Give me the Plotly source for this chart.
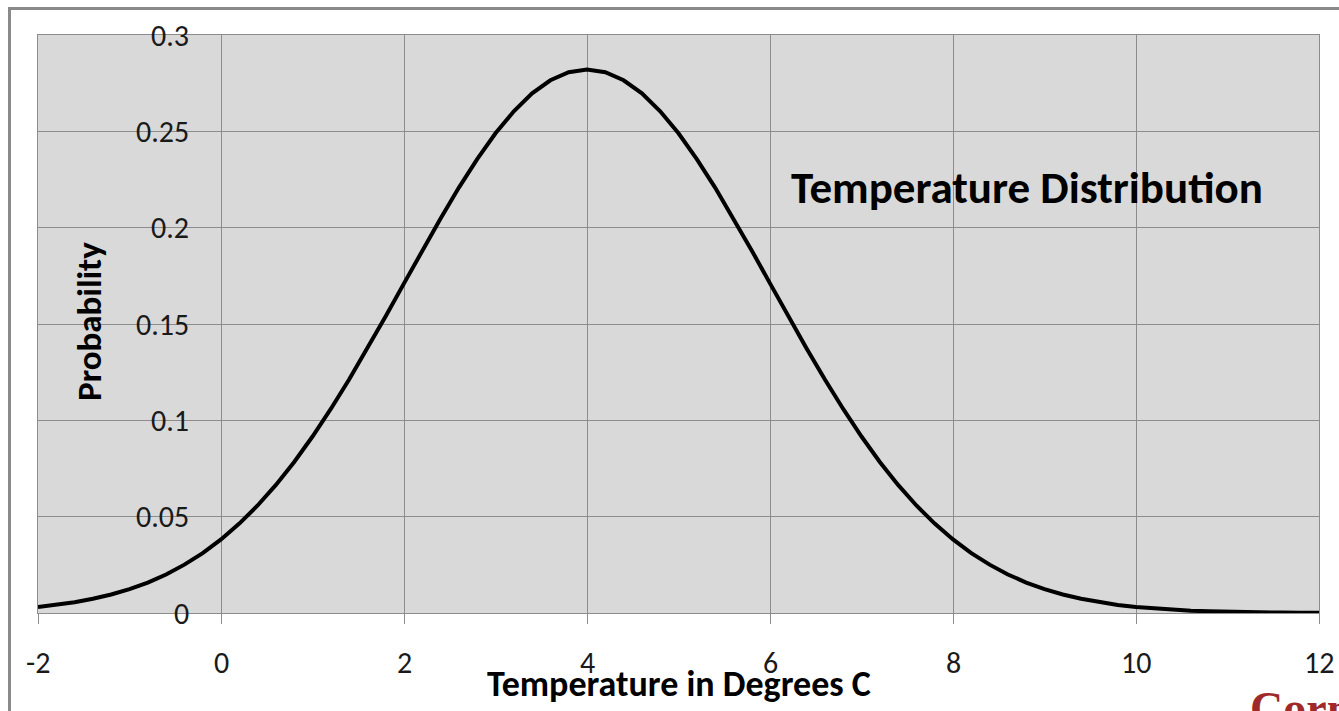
import plotly.graph_objects as go

# Temperature grid (degrees C) and the probability read at each point
temps = [-2.0, -1.8, -1.6, -1.4, -1.2, -1.0, -0.8, -0.6, -0.4, -0.2,
         0.0, 0.2, 0.4, 0.6, 0.8, 1.0, 1.2, 1.4, 1.6, 1.8,
         2.0, 2.2, 2.4, 2.6, 2.8, 3.0, 3.2, 3.4, 3.6, 3.8,
         4.0, 4.2, 4.4, 4.6, 4.8, 5.0, 5.2, 5.4, 5.6, 5.8,
         6.0, 6.2, 6.4, 6.6, 6.8, 7.0, 7.2, 7.4, 7.6, 7.8,
         8.0, 8.2, 8.4, 8.6, 8.8, 9.0, 9.2, 9.4, 9.6, 9.8,
         10.0, 10.2, 10.4, 10.6, 10.8, 11.0, 11.2, 11.4, 11.6, 11.8, 12.0]
probability = [0.0031, 0.0042, 0.0056, 0.0074, 0.0096, 0.0124, 0.0158, 0.0200, 0.0251, 0.0311,
               0.0382, 0.0464, 0.0558, 0.0665, 0.0784, 0.0916, 0.1059, 0.1212, 0.1373, 0.1540,
               0.1711, 0.1882, 0.2048, 0.2208, 0.2356, 0.2490, 0.2604, 0.2697, 0.2765, 0.2807,
               0.2821, 0.2807, 0.2765, 0.2697, 0.2604, 0.2490, 0.2356, 0.2208, 0.2048, 0.1882,
               0.1711, 0.1540, 0.1373, 0.1212, 0.1059, 0.0916, 0.0784, 0.0665, 0.0558, 0.0464,
               0.0382, 0.0311, 0.0251, 0.0200, 0.0158, 0.0124, 0.0096, 0.0074, 0.0056, 0.0042,
               0.0031, 0.0023, 0.0017, 0.0012, 0.0009, 0.0006, 0.0004, 0.0003, 0.0002, 0.0001, 0.0001]

x_ticks = [-2, 0, 2, 4, 6, 8, 10, 12]
x_tick_text = ["-2", "0", "2", "4", "6", "8", "10", "12"]
y_ticks = [0, 0.05, 0.1, 0.15, 0.2, 0.25, 0.3]
y_tick_text = ["0", "0.05", "0.1", "0.15", "0.2", "0.25", "0.3"]

FONT = "Calibri, Carlito, Lato, sans-serif"
GRID = "#8c8c8c"
TICK_FONT = dict(family=FONT, size=30, color="#1a1a1a")

W, H = 1339, 711
L, R, T, B = 38, 20, 35, 98
PW, PH = W - L - R, H - T - B


def px_x(p):
    return (p - L) / PW


def px_y(p):
    return (H - B - p) / PH


fig = go.Figure()
fig.add_trace(go.Scatter(
    x=temps, y=probability, mode="lines",
    line=dict(color="black", width=4),
    hoverinfo="x+y", showlegend=False,
))

annotations = []
# y tick labels sit inside the plot area, right-aligned on each gridline
for v, t in zip(y_ticks, y_tick_text):
    annotations.append(dict(
        x=px_x(191), xref="paper", y=v, yref="y", text=t,
        showarrow=False, xanchor="right", yanchor="middle", font=TICK_FONT,
    ))
# x tick labels centred under each gridline
for v, t in zip(x_ticks, x_tick_text):
    annotations.append(dict(
        x=v, xref="x", y=px_y(662), yref="paper", text=t,
        showarrow=False, xanchor="center", yanchor="middle", font=TICK_FONT,
    ))

annotations += [
    dict(x=px_x(89), xref="paper", y=px_y(322), yref="paper",
         text="<b>Probability</b>", textangle=-90, showarrow=False,
         xanchor="center", yanchor="middle",
         font=dict(family=FONT, size=35, color="black")),
    dict(x=0.5, xref="paper", y=px_y(684), yref="paper",
         text="<b>Temperature in Degrees C</b>", showarrow=False,
         xanchor="center", yanchor="middle",
         font=dict(family=FONT, size=36, color="black")),
    dict(x=px_x(1027), xref="paper", y=px_y(187), yref="paper",
         text="<b>Temperature Distribution</b>", showarrow=False,
         xanchor="center", yanchor="middle",
         font=dict(family=FONT, size=45, color="black")),
    dict(x=px_x(1248), xref="paper", y=px_y(681), yref="paper",
         text="<b>Cornell</b>", showarrow=False,
         xanchor="left", yanchor="top",
         font=dict(family="Liberation Serif, serif", size=46, color="#a02a2a")),
]

fig.update_layout(
    width=W, height=H,
    margin=dict(l=L, r=R, t=T, b=B, pad=0),
    paper_bgcolor="white",
    plot_bgcolor="#d9d9d9",
    annotations=annotations,
    shapes=[dict(type="rect", xref="paper", yref="paper",
                 x0=px_x(9.5), x1=px_x(1400), y0=px_y(760), y1=px_y(8.5),
                 line=dict(color="#8a8a8a", width=3), layer="below")],
)

fig.update_xaxes(
    range=[-2, 12], tickvals=x_ticks, showticklabels=False,
    showgrid=True, gridcolor=GRID, gridwidth=1,
    showline=True, linecolor=GRID, linewidth=1, mirror=True,
    ticks="outside", ticklen=10, tickcolor=GRID, tickwidth=1,
    zeroline=False, fixedrange=True,
)
fig.update_yaxes(
    range=[0, 0.3], tickvals=y_ticks, showticklabels=False,
    showgrid=True, gridcolor=GRID, gridwidth=1,
    showline=True, linecolor=GRID, linewidth=1, mirror=True,
    ticks="", zeroline=False, fixedrange=True,
)

fig.write_html("out.html")
